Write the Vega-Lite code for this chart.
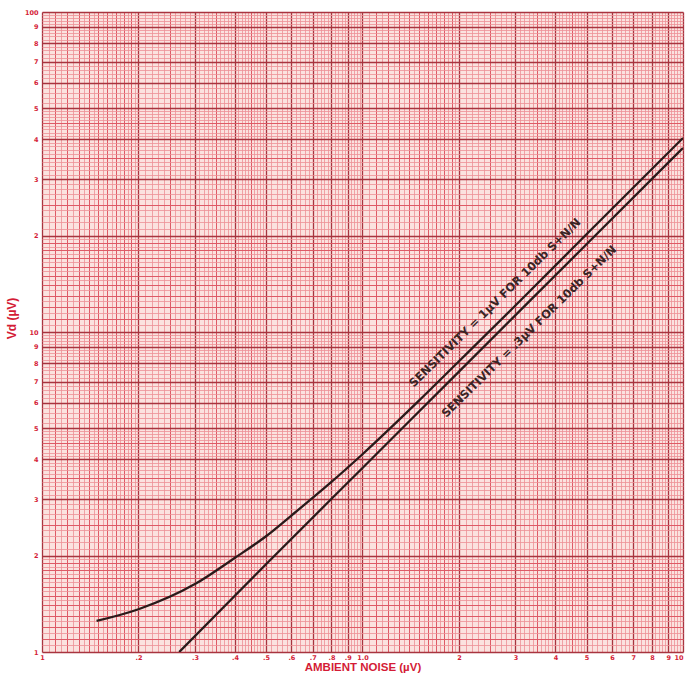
{
  "$schema": "https://vega.github.io/schema/vega-lite/v6.json",
  "width": 641,
  "height": 640,
  "autosize": "none",
  "padding": {"left": 42, "top": 12, "right": 2, "bottom": 22},
  "background": "white",
  "config": {
    "view": {"stroke": null, "fill": "#fbe2df"},
    "axis": {"domain": false, "ticks": false, "labelOverlap": false, "labelFlush": false}
  },
  "datasets": {
    "curves": [
      {"series": "1uV", "noise": 0.148, "vd": 1.25},
      {"series": "1uV", "noise": 0.2, "vd": 1.36},
      {"series": "1uV", "noise": 0.3, "vd": 1.63},
      {"series": "1uV", "noise": 0.4, "vd": 1.97},
      {"series": "1uV", "noise": 0.5, "vd": 2.3},
      {"series": "1uV", "noise": 0.6, "vd": 2.67},
      {"series": "1uV", "noise": 0.8, "vd": 3.4},
      {"series": "1uV", "noise": 1.0, "vd": 4.15},
      {"series": "1uV", "noise": 1.5, "vd": 6.1},
      {"series": "1uV", "noise": 2.0, "vd": 8.1},
      {"series": "1uV", "noise": 3.0, "vd": 12.1},
      {"series": "1uV", "noise": 5.0, "vd": 20.2},
      {"series": "1uV", "noise": 10.0, "vd": 40.4},
      {"series": "0.3uV", "noise": 0.268, "vd": 1.0},
      {"series": "0.3uV", "noise": 0.5, "vd": 1.88},
      {"series": "0.3uV", "noise": 1.0, "vd": 3.76},
      {"series": "0.3uV", "noise": 2.0, "vd": 7.52},
      {"series": "0.3uV", "noise": 5.0, "vd": 18.8},
      {"series": "0.3uV", "noise": 10.0, "vd": 37.6}
    ],
    "notes": [
      {"noise": 2.6, "vd": 12.3, "label": "SENSITIVITY = 1µV FOR 10db S+N/N"},
      {"noise": 3.32, "vd": 10.0, "label": "SENSITIVITY = .3µV FOR 10db S+N/N"}
    ]
  },
  "resolve": {"axis": {"x": "independent", "y": "independent"}},
  "layer": [
    {
      "data": {"name": "curves"},
      "mark": {"type": "point", "opacity": 0},
      "encoding": {
        "x": {"field": "noise", "type": "quantitative", "scale": {"type": "log", "domain": [0.1, 10], "nice": false},
          "axis": {"orient": "bottom", "labels": false, "title": null, "grid": true, "gridColor": "#ee9096", "gridWidth": 0.8,
            "values": [0.105,0.115,0.125,0.135,0.145,0.155,0.165,0.175,0.185,0.195,0.21,0.22,0.23,0.24,0.26,0.27,0.28,0.29,0.31,0.32,0.33,0.34,0.36,0.37,0.38,0.39,0.41,0.42,0.43,0.44,0.46,0.47,0.48,0.49,0.52,0.54,0.56,0.58,0.62,0.64,0.66,0.68,0.72,0.74,0.76,0.78,0.82,0.84,0.86,0.88,0.92,0.94,0.96,0.98,1.05,1.15,1.25,1.35,1.45,1.55,1.65,1.75,1.85,1.95,2.1,2.2,2.3,2.4,2.6,2.7,2.8,2.9,3.1,3.2,3.3,3.4,3.6,3.7,3.8,3.9,4.1,4.2,4.3,4.4,4.6,4.7,4.8,4.9,5.2,5.4,5.6,5.8,6.2,6.4,6.6,6.8,7.2,7.4,7.6,7.8,8.2,8.4,8.6,8.8,9.2,9.4,9.6,9.8]}},
        "y": {"field": "vd", "type": "quantitative", "scale": {"type": "log", "domain": [1, 100], "nice": false},
          "axis": {"orient": "left", "labels": false, "title": null, "grid": true, "gridColor": "#ee9096", "gridWidth": 0.8,
            "values": [1.05,1.15,1.25,1.35,1.45,1.55,1.65,1.75,1.85,1.95,2.1,2.2,2.3,2.4,2.6,2.7,2.8,2.9,3.1,3.2,3.3,3.4,3.6,3.7,3.8,3.9,4.1,4.2,4.3,4.4,4.6,4.7,4.8,4.9,5.2,5.4,5.6,5.8,6.2,6.4,6.6,6.8,7.2,7.4,7.6,7.8,8.2,8.4,8.6,8.8,9.2,9.4,9.6,9.8,10.5,11.5,12.5,13.5,14.5,15.5,16.5,17.5,18.5,19.5,21,22,23,24,26,27,28,29,31,32,33,34,36,37,38,39,41,42,43,44,46,47,48,49,52,54,56,58,62,64,66,68,72,74,76,78,82,84,86,88,92,94,96,98]}}
      }
    },
    {
      "data": {"name": "curves"},
      "mark": {"type": "point", "opacity": 0},
      "encoding": {
        "x": {"field": "noise", "type": "quantitative", "scale": {"type": "log", "domain": [0.1, 10], "nice": false},
          "axis": {"orient": "bottom", "labels": false, "title": null, "grid": true, "gridColor": "#de5a66", "gridWidth": 1,
            "values": [0.11,0.12,0.13,0.14,0.15,0.16,0.17,0.18,0.19,0.25,0.35,0.45,1.1,1.2,1.3,1.4,1.5,1.6,1.7,1.8,1.9,2.5,3.5,4.5]}},
        "y": {"field": "vd", "type": "quantitative", "scale": {"type": "log", "domain": [1, 100], "nice": false},
          "axis": {"orient": "left", "labels": false, "title": null, "grid": true, "gridColor": "#de5a66", "gridWidth": 1,
            "values": [1.1,1.2,1.3,1.4,1.5,1.6,1.7,1.8,1.9,2.5,3.5,4.5,11,12,13,14,15,16,17,18,19,25,35,45]}}
      }
    },
    {
      "data": {"name": "curves"},
      "mark": {"type": "point", "opacity": 0},
      "encoding": {
        "x": {"field": "noise", "type": "quantitative", "scale": {"type": "log", "domain": [0.1, 10], "nice": false},
          "axis": {"orient": "bottom", "labels": false, "title": null, "grid": true, "gridColor": "#a8343f", "gridWidth": 1.3,
            "values": [0.1,0.2,0.3,0.4,0.5,0.6,0.7,0.8,0.9,1,2,3,4,5,6,7,8,9,10]}},
        "y": {"field": "vd", "type": "quantitative", "scale": {"type": "log", "domain": [1, 100], "nice": false},
          "axis": {"orient": "left", "labels": false, "title": null, "grid": true, "gridColor": "#a8343f", "gridWidth": 1.3,
            "values": [1,2,3,4,5,6,7,8,9,10,20,30,40,50,60,70,80,90,100]}}
      }
    },
    {
      "data": {"name": "curves"},
      "mark": {"type": "line", "color": "#2a1a1a", "strokeWidth": 2.3, "interpolate": "monotone", "clip": true},
      "encoding": {
        "detail": {"field": "series"},
        "x": {"field": "noise", "type": "quantitative", "scale": {"type": "log", "domain": [0.1, 10], "nice": false},
          "axis": {"orient": "bottom", "grid": false, "title": "AMBIENT NOISE (µV)",
            "values": [0.1,0.2,0.3,0.4,0.5,0.6,0.7,0.8,0.9,1,2,3,4,5,6,7,8,9,10],
            "labelExpr": "datum.value < 0.15 ? '1' : datum.value < 0.95 ? '.' + round(datum.value * 10) : datum.value < 1.5 ? '1.0' : '' + round(datum.value)",
            "labelAlign": {"condition": {"test": "datum.value >= 9.5", "value": "right"}, "value": "center"},
            "labelColor": "#d41c36", "labelFont": "DejaVu Sans", "labelFontWeight": "bold", "labelFontSize": 6.5, "labelPadding": 2,
            "titleColor": "#d41c36", "titleFont": "Liberation Sans", "titleFontWeight": "bold", "titleFontSize": 11.5, "titleBaseline": "top", "titleY": 9}},
        "y": {"field": "vd", "type": "quantitative", "scale": {"type": "log", "domain": [1, 100], "nice": false},
          "axis": {"orient": "left", "grid": false, "title": "Vd (µV)",
            "values": [1,2,3,4,5,6,7,8,9,10,20,30,40,50,60,70,80,90,100],
            "labelExpr": "datum.value >= 15 && datum.value < 95 ? '' + round(datum.value / 10) : '' + round(datum.value)",
            "labelColor": "#d41c36", "labelFont": "DejaVu Sans", "labelFontWeight": "bold", "labelFontSize": 6.5, "labelPadding": 4,
            "titleColor": "#d41c36", "titleFont": "Liberation Sans", "titleFontWeight": "bold", "titleFontSize": 12, "titleX": -24, "titleY": 306}}
      }
    },
    {
      "data": {"name": "notes"},
      "mark": {"type": "text", "angle": 315.5, "font": "DejaVu Sans", "fontWeight": "bold", "fontSize": 11.5, "color": "#3a2424", "align": "center", "baseline": "middle"},
      "encoding": {
        "x": {"field": "noise", "type": "quantitative", "scale": {"type": "log", "domain": [0.1, 10], "nice": false}, "axis": null},
        "y": {"field": "vd", "type": "quantitative", "scale": {"type": "log", "domain": [1, 100], "nice": false}, "axis": null},
        "text": {"field": "label"}
      }
    }
  ]
}
